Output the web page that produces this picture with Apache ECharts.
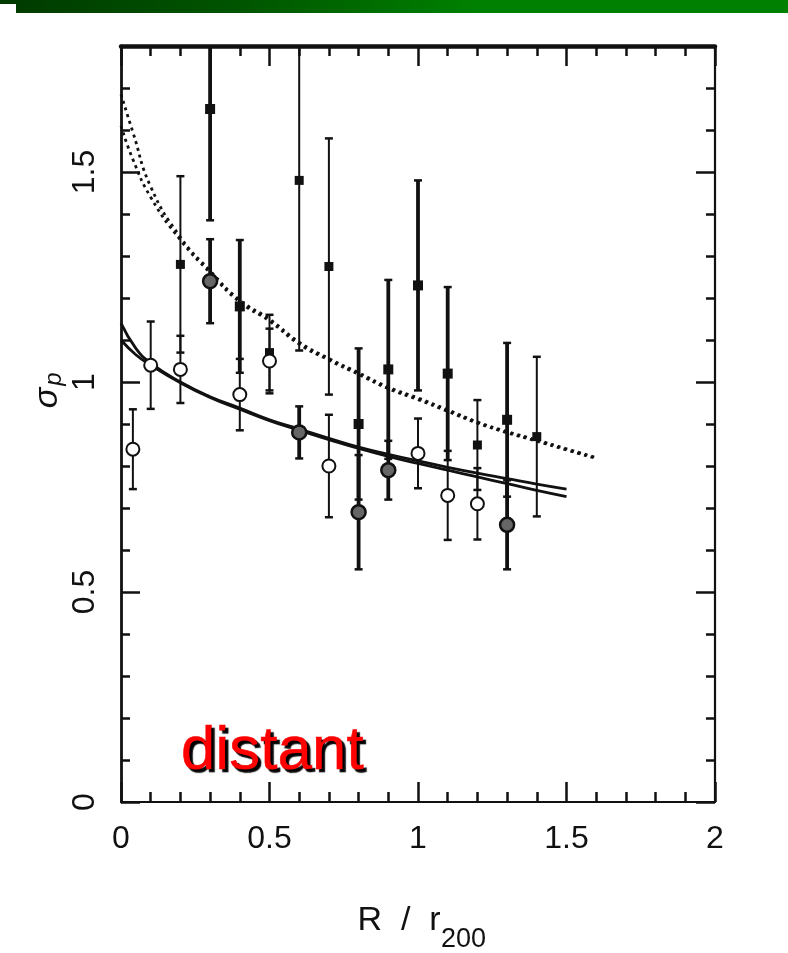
<!DOCTYPE html>
<html><head><meta charset="utf-8">
<script src="https://cdn.jsdelivr.net/npm/echarts@6/dist/echarts.min.js"></script>
<style>html,body{margin:0;padding:0;background:#fff}#c{width:788px;height:953px}</style>
</head><body><div id="c"></div>
<script>
// ---- tick labels ----
const xTickLabels = ['0', '0.5', '1', '1.5', '2'];
const yTickLabels = ['0', '0.5', '1', '1.5'];

// ---- open circles (thin error bars) ----
const openX   = [0.04, 0.1, 0.2, 0.4, 0.5, 0.7, 1.0, 1.1, 1.2];
const openY   = [0.84, 1.04, 1.03, 0.97, 1.05, 0.80, 0.83, 0.73, 0.71];
const openErr = [0.095, 0.104, 0.08, 0.085, 0.077, 0.122, 0.083, 0.106, 0.085];

// ---- bold (grey) circles (thick error bars) ----
const boldX   = [0.3, 0.6, 0.8, 0.9, 1.3];
const boldY   = [1.24, 0.88, 0.69, 0.79, 0.66];
const boldErr = [0.10, 0.062, 0.136, 0.07, 0.106];

// ---- squares, thin error bars ----
const sqThinX   = [0.2, 0.5, 0.6, 0.7, 1.2, 1.4];
const sqThinY   = [1.28, 1.07, 1.48, 1.275, 0.85, 0.87];
const sqThinErr = [0.21, 0.09, 0.405, 0.305, 0.107, 0.19];

// ---- squares, thick error bars ----
const sqThickX   = [0.3, 0.4, 0.8, 0.9, 1.0, 1.1, 1.3];
const sqThickY   = [1.65, 1.18, 0.90, 1.03, 1.23, 1.02, 0.91];
const sqThickErr = [0.265, 0.158, 0.18, 0.213, 0.25, 0.206, 0.183];

// ---- fitted curves ----
const solidX  = [0, 0.05, 0.1, 0.2, 0.3, 0.4, 0.5, 0.6, 0.7, 0.8, 0.9, 1.0, 1.1, 1.2, 1.3, 1.4, 1.5];
const solidY1 = [1.14, 1.08, 1.045, 1.0, 0.965, 0.938, 0.91, 0.888, 0.866, 0.845, 0.828, 0.812, 0.797, 0.783, 0.77, 0.757, 0.745];
const solidY2 = [1.10, 1.065, 1.04, 0.998, 0.963, 0.935, 0.908, 0.885, 0.863, 0.842, 0.823, 0.806, 0.79, 0.774, 0.758, 0.742, 0.727];
const dotX  = [0, 0.04, 0.1, 0.2, 0.3, 0.4, 0.5, 0.6, 0.7, 0.8, 0.9, 1.0, 1.1, 1.2, 1.3, 1.4, 1.5, 1.6];
const dotY1 = [1.685, 1.595, 1.465, 1.345, 1.265, 1.195, 1.15, 1.095, 1.056, 1.022, 0.988, 0.962, 0.934, 0.905, 0.882, 0.862, 0.841, 0.82];
const dotY2 = [1.61, 1.53, 1.44, 1.338, 1.26, 1.19, 1.145, 1.09, 1.052, 1.018, 0.984, 0.958, 0.93, 0.902, 0.879, 0.859, 0.838, 0.818];

const INK = '#111';
const FONT = 'Liberation Sans, Arial, Helvetica, sans-serif';

function errData(xs, ys, es) { return xs.map((x, i) => [x, ys[i] - es[i], ys[i] + es[i]]); }
function ptData(xs, ys) { return xs.map((x, i) => [x, ys[i]]); }

function errRender(w) {
  return function (params, api) {
    const x = api.value(0), lo = api.value(1), hi = api.value(2);
    const p1 = api.coord([x, hi]), p2 = api.coord([x, lo]);
    const cap = 4;
    const style = { stroke: INK, lineWidth: w, fill: null };
    return { type: 'group', children: [
      { type: 'line', shape: { x1: p1[0], y1: p1[1], x2: p2[0], y2: p2[1] }, style: style },
      { type: 'line', shape: { x1: p1[0] - cap, y1: p1[1], x2: p1[0] + cap, y2: p1[1] }, style: { stroke: INK, lineWidth: 2.5 } },
      { type: 'line', shape: { x1: p2[0] - cap, y1: p2[1], x2: p2[0] + cap, y2: p2[1] }, style: { stroke: INK, lineWidth: 2.5 } }
    ]};
  };
}

function xAx(pos, interval, len, lineW, labels) {
  return {
    type: 'value', position: pos, min: 0, max: 2, interval: interval,
    axisLine: { show: lineW > 0, onZero: false, lineStyle: { color: INK, width: lineW } },
    axisTick: { show: true, inside: true, length: len, lineStyle: { color: INK, width: 2.5 } },
    axisLabel: labels ? { show: true, fontSize: 32, color: INK, fontFamily: FONT, margin: 21,
      formatter: v => { const s = String(+v.toFixed(2)); return xTickLabels.indexOf(s) >= 0 ? s : ''; } } : { show: false },
    splitLine: { show: false }
  };
}
function yAx(pos, interval, len, lineW, labels) {
  return {
    type: 'value', position: pos, min: 0, max: 1.8, interval: interval,
    axisLine: { show: lineW > 0, onZero: false, lineStyle: { color: INK, width: lineW } },
    axisTick: { show: true, inside: true, length: len, lineStyle: { color: INK, width: 2.5 } },
    axisLabel: labels ? { show: true, fontSize: 32, color: INK, fontFamily: FONT, margin: 20, rotate: 90,
      showMaxLabel: false,
      formatter: v => { const s = String(+v.toFixed(2)); return yTickLabels.indexOf(s) >= 0 ? s : ''; } } : { show: false },
    splitLine: { show: false }
  };
}

const chart = echarts.init(document.getElementById('c'), null, { renderer: 'canvas' });
chart.setOption({
  animation: false,
  backgroundColor: '#fff',
  grid: { left: 121, right: 73, top: 46, bottom: 151, containLabel: false },
  xAxis: [
    xAx('bottom', 0.5, 20, 2.2, true),
    xAx('bottom', 0.1, 10, 0, false),
    xAx('top', 0.5, 20, 4.5, false),
    xAx('top', 0.1, 10, 0, false)
  ],
  yAxis: [
    yAx('left', 0.5, 19, 2.8, true),
    yAx('left', 0.1, 9, 0, false),
    yAx('right', 0.5, 19, 2.2, false),
    yAx('right', 0.1, 9, 0, false)
  ],
  graphic: [
    { type: 'rect', shape: { x: 0, y: 0, width: 788, height: 13 }, silent: true,
      style: { fill: new echarts.graphic.LinearGradient(0, 0, 1, 0, [
        { offset: 0, color: '#003a00' }, { offset: 0.3, color: '#005400' },
        { offset: 0.6, color: '#008000' }, { offset: 1, color: '#008000' }]) } },
    { type: 'rect', shape: { x: 0, y: 4, width: 16, height: 9 }, silent: true, style: { fill: '#fff' } },
    { type: 'text', x: 181, y: 752, silent: true, z: 10,
      style: { text: 'distant', font: '62px ' + FONT, fill: '#ff0000', align: 'left', verticalAlign: 'middle',
        stroke: '#ff0000', lineWidth: 0.6,
        textShadowColor: '#000000', textShadowOffsetX: 3, textShadowOffsetY: 3, textShadowBlur: 1 } },
    { type: 'group', x: 48, y: 388, rotation: Math.PI / 2, silent: true, children: [
      { type: 'text', x: -10, y: 0, style: { text: 'σ', font: 'italic 34px ' + FONT, fill: INK, align: 'center', verticalAlign: 'middle' } },
      { type: 'text', x: 9, y: 6, style: { text: 'p', font: 'italic 24px ' + FONT, fill: INK, align: 'center', verticalAlign: 'middle' } }
    ]},
    { type: 'text', x: 399, y: 921, silent: true, style: { text: 'R  /  r', font: '34px ' + FONT, fill: INK, align: 'center', verticalAlign: 'middle' } },
    { type: 'text', x: 441, y: 940, silent: true, style: { text: '200', font: '27px ' + FONT, fill: INK, align: 'left', verticalAlign: 'middle' } }
  ],
  series: [
    { type: 'line', data: ptData(dotX, dotY1), smooth: true, showSymbol: false, z: 2,
      lineStyle: { color: INK, width: 2.8, type: [3, 4] } },
    { type: 'line', data: ptData(dotX, dotY2), smooth: true, showSymbol: false, z: 2,
      lineStyle: { color: INK, width: 2.8, type: [3, 4] } },
    { type: 'line', data: ptData(solidX, solidY1), smooth: true, showSymbol: false, z: 2,
      lineStyle: { color: INK, width: 2.8 } },
    { type: 'line', data: ptData(solidX, solidY2), smooth: true, showSymbol: false, z: 2,
      lineStyle: { color: INK, width: 2.8 } },
    { type: 'custom', clip: true, z: 3, renderItem: errRender(2), encode: { x: 0, y: [1, 2] }, data: errData(openX, openY, openErr) },
    { type: 'custom', clip: true, z: 3, renderItem: errRender(3.8), encode: { x: 0, y: [1, 2] }, data: errData(boldX, boldY, boldErr) },
    { type: 'custom', clip: true, z: 3, renderItem: errRender(2), encode: { x: 0, y: [1, 2] }, data: errData(sqThinX, sqThinY, sqThinErr) },
    { type: 'custom', clip: true, z: 3, renderItem: errRender(3.8), encode: { x: 0, y: [1, 2] }, data: errData(sqThickX, sqThickY, sqThickErr) },
    { type: 'scatter', z: 4, data: ptData(sqThinX, sqThinY), symbol: 'rect', symbolSize: 9, itemStyle: { color: INK, opacity: 1 } },
    { type: 'scatter', z: 4, data: ptData(sqThickX, sqThickY), symbol: 'rect', symbolSize: 10, itemStyle: { color: INK, opacity: 1 } },
    { type: 'scatter', z: 5, data: ptData(openX, openY), symbol: 'circle', symbolSize: 13,
      itemStyle: { color: '#fff', borderColor: INK, borderWidth: 2, opacity: 1 } },
    { type: 'scatter', z: 5, data: ptData(boldX, boldY), symbol: 'circle', symbolSize: 14,
      itemStyle: { color: '#666', borderColor: INK, borderWidth: 2.5, opacity: 1 } }
  ]
});
</script></body></html>
